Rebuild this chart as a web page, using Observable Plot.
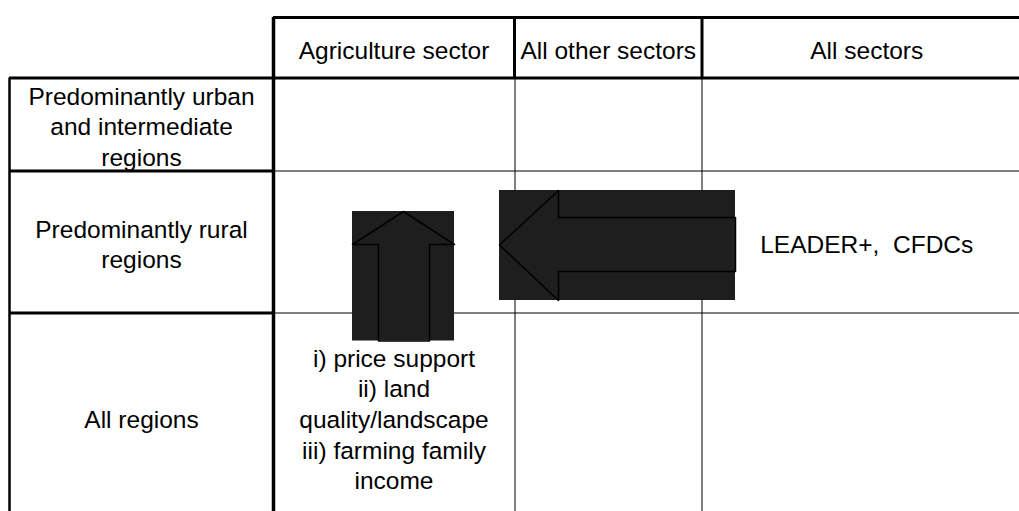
<!DOCTYPE html>
<html>
<head>
<meta charset="utf-8">
<script src="https://cdn.jsdelivr.net/npm/d3@7"></script>
<script src="https://cdn.jsdelivr.net/npm/@observablehq/plot@0.6"></script>
<style>
  html, body { margin: 0; padding: 0; background: #fff; overflow: hidden; }
  svg text { white-space: pre; }
</style>
</head>
<body>
<script>
// Table layout (grid edges in pixel units of the drawing)
const colEdges = [9, 273, 514, 701.5, 1031];
const rowEdges = [17, 77.5, 170.5, 312.5, 521];

// Labels
const colLabels = ["Agriculture sector", "All other sectors", "All sectors"];
const rowLabels = [
  "Predominantly urban\nand intermediate\nregions",
  "Predominantly rural\nregions",
  "All regions"
];
const cellCols = [0, 2];
const cellRows = [2, 1];
const cellTexts = [
  "i) price support\nii) land\nquality/landscape\niii) farming family\nincome",
  "LEADER+,  CFDCs"
];

// Arrows (box and outline polygon)
const upArrowBox = [352, 211, 454, 340.5];
const upArrowOutline = [[403, 211], [454, 244], [429, 244], [429, 340.5], [378, 340.5], [378, 244], [352, 244], [403, 211]];
const leftArrowBox = [499, 190, 735, 300];
const leftArrowOutline = [[499, 244.5], [558, 190], [558, 217], [735, 217], [735, 271], [558, 271], [558, 300], [499, 244.5]];

const W = 1019, H = 511;
const thick = 3, thin = 1;
const right = colEdges[colEdges.length - 1];
const bottom = rowEdges[rowEdges.length - 1];

// Build grid segments
const vSegs = [
  {x: colEdges[0], y1: rowEdges[1], y2: bottom, w: 2.5},
  {x: colEdges[1], y1: rowEdges[0], y2: bottom, w: 3.5},
  {x: colEdges[2], y1: rowEdges[0], y2: rowEdges[1], w: thick},
  {x: colEdges[2] + 0.5, y1: rowEdges[1], y2: bottom, w: thin},
  {x: colEdges[3], y1: rowEdges[0], y2: rowEdges[1], w: thick},
  {x: colEdges[3], y1: rowEdges[1], y2: bottom, w: thin}
];
const hSegs = [
  {y: rowEdges[0], x1: colEdges[1], x2: right, w: thick},
  {y: rowEdges[1], x1: colEdges[0], x2: right, w: thick}
];
for (let i = 2; i < rowEdges.length - 1; i++) {
  hSegs.push({y: rowEdges[i], x1: colEdges[0], x2: colEdges[1], w: thick});
  hSegs.push({y: rowEdges[i], x1: colEdges[1], x2: right, w: thin});
}

const mid = (a, i) => (a[i] + a[i + 1]) / 2;
const texts = [];
colLabels.forEach((t, i) => texts.push({x: mid(colEdges, i + 1), y: mid(rowEdges, 0), t}));
rowLabels.forEach((t, i) => texts.push({x: mid(colEdges, 0), y: mid(rowEdges, i + 1), t}));
cellTexts.forEach((t, i) => texts.push({x: mid(colEdges, cellCols[i] + 1), y: mid(rowEdges, cellRows[i] + 1), t}));

const boxes = [upArrowBox, leftArrowBox].map(b => ({x1: b[0], y1: b[1], x2: b[2], y2: b[3]}));

const chart = Plot.plot({
  width: W,
  height: H,
  margin: 0,
  x: {domain: [0, W], range: [0, W], axis: null},
  y: {domain: [0, H], range: [0, H], axis: null},
  style: {background: "#fff", fontFamily: "'Liberation Sans', Arial, sans-serif", color: "#000"},
  marks: [
    Plot.ruleX(vSegs, {x: "x", y1: "y1", y2: "y2", stroke: "#000", strokeWidth: d => d.w, clip: true}),
    Plot.ruleY(hSegs, {y: "y", x1: "x1", x2: "x2", stroke: "#000", strokeWidth: d => d.w, clip: true}),
    Plot.rect(boxes, {x1: "x1", y1: "y1", x2: "x2", y2: "y2", fill: "#1e1e1e"}),
    Plot.line(upArrowOutline, {x: d => d[0], y: d => d[1], stroke: "#000", strokeWidth: 1.5}),
    Plot.line(leftArrowOutline, {x: d => d[0], y: d => d[1], stroke: "#000", strokeWidth: 1.5}),
    Plot.text(texts, {
      x: "x", y: "y", text: "t",
      fontSize: 24.5, lineHeight: 1.25,
      textAnchor: "middle", lineAnchor: "middle",
      dy: 1, fill: "#000"
    })
  ]
});
document.body.appendChild(chart);
</script>
</body>
</html>
